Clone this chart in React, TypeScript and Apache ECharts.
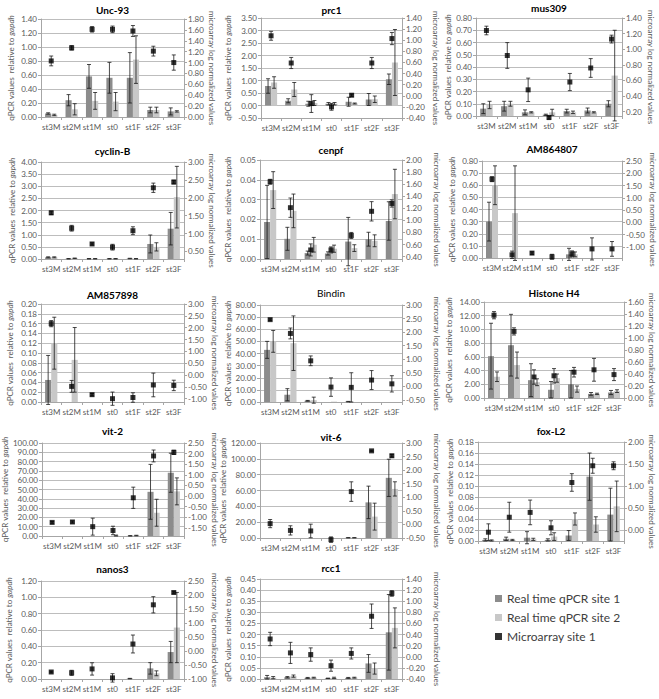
import React, { useEffect, useRef } from 'react';
import * as echarts from 'echarts';

const stages = ['st3M', 'st2M', 'st1M', 'st0', 'st1F', 'st2F', 'st3F'];
const genes = ['Unc-93', 'prc1', 'mus309', 'cyclin-B', 'cenpf', 'AM864807', 'AM857898', 'Bindin', 'Histone H4', 'vit-2', 'vit-6', 'fox-L2', 'nanos3', 'rcc1'];
const boldTitle = [true, true, true, true, true, true, true, false, true, true, true, true, true, true];

// qPCR site 1 (left axis)
const site1 = [
  [0.05, 0.24, 0.58, 0.56, 0.56, 0.10, 0.08],
  [0.78, 0.19, 0.07, 0.07, 0.15, 0.24, 1.05],
  [0.06, 0.08, 0.03, 0.01, 0.04, 0.045, 0.10],
  [0.07, 0.01, 0.01, 0.01, 0.02, 0.62, 1.25],
  [0.0187, 0.0102, 0.003, 0.0028, 0.0088, 0.010, 0.0192],
  [0.30, 0, 0, 0, 0.03, 0, 0],
  [0.045, 0, 0, 0, 0, 0, 0],
  [43, 6, 1, 0, 0.3, 0, 0],
  [6.1, 7.7, 2.6, 1.2, 2.0, 0.6, 0.8],
  [0, 0, 0, 0, 0.2, 47.5, 68],
  [0, 0, 0, 0, 0.3, 45, 76],
  [0.002, 0.004, 0.006, 0.002, 0.010, 0.117, 0.048],
  [0, 0, 0, 0, 0.005, 0.13, 0.33],
  [0.008, 0.008, 0.005, 0.003, 0.005, 0.07, 0.21],
];
const site1Err = [
  [0.01, 0.08, 0.17, 0.22, 0.36, 0.04, 0.05],
  [0.29, 0.08, 0.10, 0.05, 0.18, 0.24, 0.21],
  [0.04, 0.04, 0.02, 0.005, 0.015, 0.02, 0.025],
  [0.02, 0.01, 0.01, 0.01, 0.01, 0.37, 0.67],
  [0.0185, 0.0058, 0.001, 0.0008, 0.0122, 0.0035, 0.0097],
  [0.16, 0, 0, 0, 0.05, 0, 0],
  [0.05, 0, 0, 0, 0, 0, 0],
  [7, 5, 0.3, 0, 0.2, 0, 0],
  [4.8, 4.5, 2.4, 1.2, 2.0, 0.2, 0.3],
  [0, 0, 0, 0, 0.2, 29.5, 21],
  [0, 0, 0, 0, 0.2, 20.5, 23.5],
  [0.002, 0.003, 0.011, 0.002, 0.009, 0.043, 0.048],
  [0, 0, 0, 0, 0.003, 0.07, 0.13],
  [0.008, 0.003, 0.002, 0.001, 0.002, 0.04, 0.17],
];
// qPCR site 2 (left axis)
const site2 = [
  [0.03, 0.11, 0.23, 0.22, 0.82, 0.10, 0.08],
  [0.92, 0.64, 0.10, 0.07, 0.08, 0.25, 1.72],
  [0.09, 0.10, 0.03, 0.03, 0.03, 0.03, 0.33],
  [0.07, 0.03, 0.01, 0.01, 0.01, 0.50, 2.55],
  [0.0348, 0.0243, 0.0072, 0.0052, 0.0055, 0.0092, 0.0328],
  [0.60, 0.37, 0, 0, 0.03, 0, 0],
  [0.12, 0.086, 0, 0, 0, 0, 0],
  [50, 48.5, 1.5, 0.3, 0, 0, 0],
  [3.1, 4.8, 2.3, 2.9, 1.3, 0.6, 1.0],
  [0, 0, 0, 0.5, 0.5, 25, 48],
  [0, 0, 0, 0, 0.3, 27, 62],
  [0.001, 0.002, 0.003, 0.008, 0.040, 0.030, 0.063],
  [0, 0, 0, 0, 0, 0.07, 0.63],
  [0.006, 0.013, 0.006, 0.005, 0.006, 0.047, 0.23],
];
const site2Err = [
  [0.01, 0.08, 0.12, 0.13, 0.34, 0.04, 0.01],
  [0.23, 0.28, 0.10, 0.05, 0.02, 0.13, 1.32],
  [0.03, 0.02, 0.005, 0.025, 0.01, 0.005, 0.37],
  [0.02, 0.01, 0.01, 0.01, 0.01, 0.17, 1.27],
  [0.0093, 0.0085, 0.0037, 0.0018, 0.0017, 0.003, 0.0125],
  [0.16, 0.39, 0, 0, 0.02, 0, 0],
  [0.053, 0.066, 0, 0, 0, 0, 0],
  [9, 22.5, 2.5, 0, 0, 0, 0],
  [0.7, 1.9, 0.5, 0.6, 0.45, 0.1, 0.2],
  [0, 0, 0, 0.5, 0.3, 14.5, 14.5],
  [0, 0, 0, 0, 0.2, 17, 9],
  [0.001, 0.001, 0.002, 0.007, 0.011, 0.014, 0.046],
  [0, 0, 0, 0, 0, 0.03, 0.43],
  [0.005, 0.005, 0.002, 0.003, 0.002, 0.025, 0.09],
];
// Microarray site 1 (right axis)
const micro = [
  [1.03, 1.27, 1.61, 1.61, 1.58, 1.21, 1.00],
  [1.08, 0.59, -0.14, -0.20, 0.01, 0.59, 1.03],
  [1.24, 0.92, 0.48, 0.125, 0.58, 0.76, 1.13],
  [1.58, 1.15, 0.71, 0.62, 1.08, 2.28, 2.44],
  [1.64, 1.21, 0.51, 0.51, 0.75, 1.15, 1.28],
  [1.76, -1.32, -1.25, -1.40, -1.28, -1.08, -1.08],
  [2.17, -0.48, -0.83, -1.00, -0.95, -0.42, -0.44],
  [2.46, 1.95, 0.94, -0.03, -0.04, 0.23, 0.09],
  [1.38, 1.11, 0.35, 0.37, 0.43, 0.47, 0.39],
  [-1.24, -1.22, -1.44, -1.62, -0.08, 1.89, 2.06],
  [0.03, -0.22, -0.24, -0.56, 1.21, 2.71, 2.53],
  [-0.05, 0.29, 0.40, 0.05, 1.08, 1.46, 1.46],
  [-0.75, -0.78, -0.64, -0.96, 0.25, 1.65, 2.09],
  [0.32, 0.07, 0.04, -0.16, 0.06, 0.73, 1.14],
];
const microErr = [
  [0.09, 0.04, 0.05, 0.06, 0.10, 0.09, 0.14],
  [0.08, 0.10, 0.16, 0.06, 0.02, 0.10, 0.11],
  [0.055, 0.165, 0.15, 0.02, 0.11, 0.12, 0.05],
  [0.05, 0.08, 0.03, 0.08, 0.11, 0.13, 0.05],
  [0.04, 0.16, 0.1, 0.05, 0.05, 0.16, 0.06],
  [0.1, 0.15, 0.05, 0.1, 0.12, 0.45, 0.3],
  [0.13, 0.25, 0.05, 0.28, 0.2, 0.5, 0.22],
  [0.03, 0.2, 0.18, 0.34, 0.54, 0.35, 0.3],
  [0.06, 0.06, 0.12, 0.12, 0.08, 0.19, 0.1],
  [0.04, 0.05, 0.4, 0.2, 0.5, 0.28, 0.1],
  [0.15, 0.17, 0.25, 0.1, 0.36, 0.02, 0.05],
  [0.19, 0.34, 0.28, 0.16, 0.2, 0.17, 0.09],
  [0.03, 0.09, 0.22, 0.15, 0.32, 0.29, 0.03],
  [0.12, 0.19, 0.12, 0.1, 0.1, 0.22, 0.05],
];

// Axis scales
const qMin = [0, -0.5, 0, 0, 0, 0, 0, 0, 0, 0, 0, 0, 0, 0];
const qMax = [1.4, 3.5, 0.8, 4, 0.05, 0.8, 0.2, 80, 14, 100, 120, 0.18, 1.2, 0.45];
const qStep = [0.2, 0.5, 0.1, 0.5, 0.01, 0.1, 0.02, 10, 2, 10, 20, 0.02, 0.2, 0.05];
const mMin = [0, -0.4, 0.145, 0.29, 0.36, -1.45, -1.14, -0.58, 0, -1.88, -0.5, -0.25, -1.0, -0.4];
const mMax = [1.8, 1.4, 1.4, 3.0, 2.0, 2.5, 3.0, 3.0, 1.6, 2.5, 3.0, 2.0, 2.5, 1.4];
const mStep = [0.2, 0.2, 0.2, 0.5, 0.2, 0.5, 0.5, 0.5, 0.2, 0.5, 0.5, 0.5, 0.5, 0.2];

// Layout (plot rectangles: left, top, right, bottom), title centres, axis-title centres
const panelBoxes = [
  [41, 19, 184, 117], [261, 18, 402, 118], [476, 18, 622, 116],
  [41, 162, 184, 259], [260, 160, 402, 259], [482, 161, 622, 258],
  [41, 304, 184, 402], [260, 305, 402, 402], [484, 302, 624, 398],
  [41, 443, 184, 536], [260, 443, 402, 538], [478, 442, 624, 541],
  [41, 581, 184, 679], [260, 579, 402, 679],
];
const titleY = [10, 10, 8, 151, 150, 149, 295, 293, 293, 431, 437, 431, 569, 568];
const leftNameX = [10, 227, 450, 11, 227, 451, 9, 228, 448, 7, 225, 449, 8, 227];
const rightNameX = [207, 436, 651, 205, 437, 651, 208, 437, 651, 208, 437, 651, 208, 437];

const FONT = 'Lato, "Open Sans", sans-serif';
const LABEL_COLOR = '#595959';
const AXIS_COLOR = '#a6a6a6';
const C1 = '#8c8c8c';
const C2 = '#c8c8c8';

function tickValues(min: number, max: number, step: number) {
  const out: number[] = [];
  const start = Math.ceil(min / step - 1e-9);
  for (let k = start; k * step <= max + 1e-9; k++) out.push(Math.round(k * step * 1e6) / 1e6);
  return out;
}

const errRender = (offset: number) => (params: any, api: any) => {
  const e = api.value(2);
  if (!e) return null;
  const x = api.value(0);
  const v = api.value(1);
  const band = api.size([1, 0])[0];
  const p1 = api.coord([x, v + e]);
  const p2 = api.coord([x, v - e]);
  const cx = p1[0] + offset * band;
  const cap = 2;
  const style = { stroke: '#1a1a1a', lineWidth: 0.8 };
  return {
    type: 'group',
    children: [
      { type: 'line', shape: { x1: cx, y1: p1[1], x2: cx, y2: p2[1] }, style },
      { type: 'line', shape: { x1: cx - cap, y1: p1[1], x2: cx + cap, y2: p1[1] }, style },
      { type: 'line', shape: { x1: cx - cap, y1: p2[1], x2: cx + cap, y2: p2[1] }, style },
    ],
  };
};

function buildOption() {
  const grid: any[] = [];
  const xAxis: any[] = [];
  const yAxis: any[] = [];
  const series: any[] = [];
  const graphic: any[] = [];

  genes.forEach((gene, i) => {
    const [l, t, r, b] = panelBoxes[i];
    grid.push({ left: l, top: t, width: r - l, height: b - t });
    graphic.push({
      type: 'text',
      x: (l + r) / 2,
      y: titleY[i],
      style: {
        text: gene,
        fill: '#000',
        font: `${boldTitle[i] ? 'bold ' : ''}10px ${FONT}`,
        textAlign: 'center',
        textVerticalAlign: 'middle',
      },
    });
    xAxis.push({
      type: 'category',
      gridIndex: i,
      data: stages,
      axisLine: { onZero: false, lineStyle: { color: AXIS_COLOR } },
      axisTick: { show: true, length: 3, lineStyle: { color: AXIS_COLOR } },
      axisLabel: { interval: 0, fontSize: 8, color: LABEL_COLOR, fontFamily: FONT, margin: 6 },
    });
    yAxis.push({
      type: 'value',
      gridIndex: i,
      position: 'left',
      min: qMin[i],
      max: qMax[i],
      interval: qStep[i],
      axisLine: { show: true, lineStyle: { color: AXIS_COLOR } },
      axisTick: { show: true, length: 3, lineStyle: { color: AXIS_COLOR } },
      splitLine: { show: true, lineStyle: { color: '#bdbdbd', width: 1 } },
      axisLabel: { fontSize: 8, color: LABEL_COLOR, fontFamily: FONT, margin: 4, formatter: (v: number) => v.toFixed(2) },
      name: 'qPCR values  relative to {i|gapdh}',
      nameLocation: 'middle',
      nameRotate: 90,
      nameGap: l - leftNameX[i] - 4.5,
      nameTextStyle: {
        fontSize: 8,
        color: LABEL_COLOR,
        fontFamily: FONT,
        rich: { i: { fontStyle: 'italic', fontSize: 8, color: LABEL_COLOR, fontFamily: FONT } },
      },
    });
    const mt = tickValues(mMin[i], mMax[i], mStep[i]);
    yAxis.push({
      type: 'value',
      gridIndex: i,
      position: 'right',
      min: mMin[i],
      max: mMax[i],
      axisLine: { show: true, lineStyle: { color: AXIS_COLOR } },
      axisTick: { show: true, length: 3, lineStyle: { color: AXIS_COLOR }, customValues: mt },
      splitLine: { show: false },
      axisLabel: { fontSize: 8, color: LABEL_COLOR, fontFamily: FONT, margin: 4, customValues: mt, formatter: (v: number) => v.toFixed(2) },
      name: 'microarray log normalized values',
      nameLocation: 'middle',
      nameRotate: -90,
      nameGap: rightNameX[i] - r - 4.5,
      nameTextStyle: { fontSize: 8, color: LABEL_COLOR, fontFamily: FONT },
    });
    const lY = 2 * i;
    const rY = 2 * i + 1;
    series.push({
      type: 'bar',
      name: 'Real time qPCR site 1',
      xAxisIndex: i,
      yAxisIndex: lY,
      data: site1[i],
      itemStyle: { color: C1 },
      barGap: '0%',
      barCategoryGap: '40%',
    });
    series.push({
      type: 'bar',
      name: 'Real time qPCR site 2',
      xAxisIndex: i,
      yAxisIndex: lY,
      data: site2[i],
      itemStyle: { color: C2 },
      barGap: '0%',
      barCategoryGap: '40%',
    });
    series.push({
      type: 'custom',
      xAxisIndex: i,
      yAxisIndex: lY,
      z: 4,
      renderItem: errRender(-0.15),
      encode: { x: 0, y: 1 },
      data: stages.map((_, k) => [k, site1[i][k], site1Err[i][k]]),
    });
    series.push({
      type: 'custom',
      xAxisIndex: i,
      yAxisIndex: lY,
      z: 4,
      renderItem: errRender(0.15),
      encode: { x: 0, y: 1 },
      data: stages.map((_, k) => [k, site2[i][k], site2Err[i][k]]),
    });
    series.push({
      type: 'scatter',
      name: 'Microarray site 1',
      xAxisIndex: i,
      yAxisIndex: rY,
      data: micro[i],
      symbol: 'rect',
      symbolSize: 5,
      clip: false,
      z: 6,
      itemStyle: { color: '#000' },
    });
    series.push({
      type: 'custom',
      xAxisIndex: i,
      yAxisIndex: rY,
      z: 5,
      renderItem: errRender(0),
      encode: { x: 0, y: 1 },
      data: stages.map((_, k) => [k, micro[i][k], microErr[i][k]]),
    });
  });

  return {
    animation: false,
    backgroundColor: '#ffffff',
    grid,
    xAxis,
    yAxis,
    series,
    graphic,
    legend: {
      orient: 'vertical',
      left: 490,
      top: 586,
      itemWidth: 7,
      itemHeight: 7,
      itemGap: 4,
      selectedMode: false,
      textStyle: { fontSize: 12, color: '#404040', fontFamily: FONT, lineHeight: 15 },
      data: [
        { name: 'Real time qPCR site 1', icon: 'rect' },
        { name: 'Real time qPCR site 2', icon: 'rect' },
        { name: 'Microarray site 1', icon: 'rect' },
      ],
    },
  };
}

export default function App() {
  const ref = useRef<HTMLDivElement>(null);
  useEffect(() => {
    const chart = echarts.init(ref.current!, null, { renderer: 'svg' });
    chart.setOption(buildOption() as any);
    return () => chart.dispose();
  }, []);
  return (
    <div
      ref={ref}
      style={{ position: 'absolute', left: 0, top: 0, width: 659, height: 699, background: '#fff' }}
    />
  );
}
